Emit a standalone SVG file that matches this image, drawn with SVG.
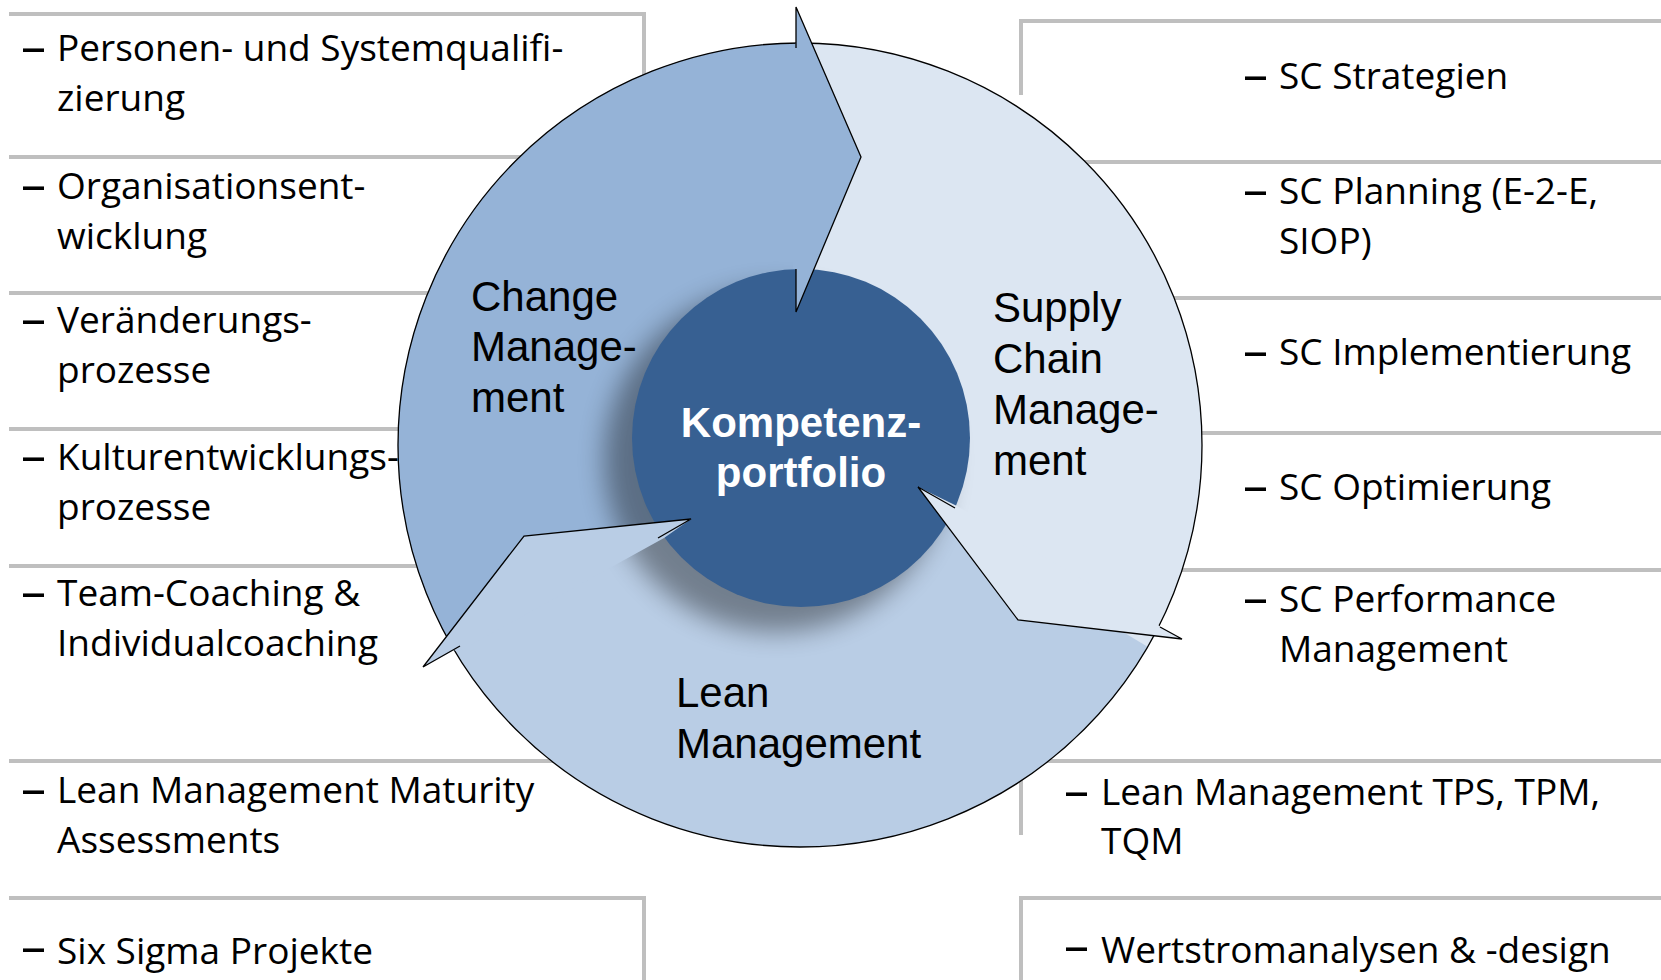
<svg xmlns="http://www.w3.org/2000/svg" width="1661" height="980" viewBox="0 0 1661 980">
<defs>
<style>
.sep{fill:none;stroke:#BFBFBF;stroke-width:4;stroke-linejoin:miter;stroke-linecap:butt}
.item{font-family:"Open Sans","Noto Sans",sans-serif;font-size:37px;fill:#000}
.dash{font-size:50px}
.lbl{font-family:"Liberation Sans",Arial,sans-serif;font-size:42px;fill:#000}
.corelbl{font-family:"Liberation Sans",Arial,sans-serif;font-size:42px;font-weight:bold;fill:#fff;text-anchor:middle}
.edge{fill:none;stroke:#000;stroke-width:1.3;stroke-linejoin:miter}
.c-change{fill:#95B3D7}
.c-scm{fill:#DCE6F2}
.c-lean{fill:#B9CDE5}
</style>
<filter id="sh" x="-50%" y="-50%" width="200%" height="200%"><feGaussianBlur stdDeviation="13"/></filter>
</defs>
<rect width="1661" height="980" fill="#fff"/>

<g id="separators">
<polyline class="sep" points="9,14 644,14 644,80"/>
<line class="sep" x1="9" y1="157" x2="700" y2="157"/>
<line class="sep" x1="9" y1="293" x2="700" y2="293"/>
<line class="sep" x1="9" y1="429" x2="700" y2="429"/>
<line class="sep" x1="9" y1="566" x2="700" y2="566"/>
<line class="sep" x1="9" y1="761" x2="700" y2="761"/>
<polyline class="sep" points="9,898 644,898 644,980"/>
<polyline class="sep" points="1021,95 1021,21 1661,21"/>
<line class="sep" x1="900" y1="162" x2="1661" y2="162"/>
<line class="sep" x1="900" y1="298" x2="1661" y2="298"/>
<line class="sep" x1="900" y1="433" x2="1661" y2="433"/>
<line class="sep" x1="900" y1="570" x2="1661" y2="570"/>
<polyline class="sep" points="1021,835 1021,761 1661,761"/>
<polyline class="sep" points="1021,980 1021,898 1661,898"/>
</g>

<g id="ring">
<circle id="node-lean" class="c-lean" cx="800" cy="445" r="402"/>
<path id="node-scm" class="c-scm" d="M796,43 A402,402 0 0 1 1159,626 L955,508 L801,438 L796,269 Z"/>
<path id="node-change" class="c-change" d="M454,650 A402,402 0 0 1 796,43 L796,269 L801,438 L662,535 Z"/>
<polygon class="c-scm" points="1123,632 1155,636 1148,647"/>
<circle cx="800" cy="445" r="402" fill="none" stroke="#000" stroke-width="1.3"/>
</g>

<g id="node-core">
<circle cx="776" cy="460" r="172" fill="#000" opacity="0.38" filter="url(#sh)"/>
<circle cx="801" cy="438" r="169" fill="#376092"/>
</g>

<g id="arrowheads">
<g id="head-change"><polygon class="c-change" points="796,7 861,157 796,312 796,269 793,269 793,47 796,43"/><polyline class="edge" points="796,48 796,7 861,157 796,312 796,269"/></g>
<g id="head-scm"><polygon class="c-scm" points="1182,639 1018,620 918,487 957,506 1157,623 1159,626"/><polyline class="edge" points="1160,627 1182,639 1018,620 918,487 955,508"/></g>
<g id="head-lean"><polygon class="c-lean" points="423,667 524,536 691,519 664,538 458,652 454,650"/><polyline class="edge" points="460,646 423,667 524,536 691,519 658,538"/></g>
</g>

<g id="label-change"><text class="lbl"><tspan x="471" y="311">Change</tspan><tspan x="471" y="361">Manage-</tspan><tspan x="471" y="412">ment</tspan></text></g>
<g id="label-scm"><text class="lbl"><tspan x="993" y="322">Supply</tspan><tspan x="993" y="373">Chain</tspan><tspan x="993" y="424">Manage-</tspan><tspan x="993" y="475">ment</tspan></text></g>
<g id="label-lean"><text class="lbl"><tspan x="676" y="707">Lean</tspan><tspan x="676" y="758">Management</tspan></text></g>
<g id="label-core"><text class="corelbl"><tspan x="801" y="437">Kompetenz-</tspan><tspan x="801" y="487">portfolio</tspan></text></g>

<g id="list-left">
<g id="item-l1"><text class="item"><tspan class="dash" x="21" y="64">–</tspan><tspan x="57" y="61">Personen- und Systemqualifi-</tspan><tspan x="57" y="111">zierung</tspan></text></g>
<g id="item-l2"><text class="item"><tspan class="dash" x="21" y="202">–</tspan><tspan x="57" y="199">Organisationsent-</tspan><tspan x="57" y="249">wicklung</tspan></text></g>
<g id="item-l3"><text class="item"><tspan class="dash" x="21" y="336">–</tspan><tspan x="57" y="333">Veränderungs-</tspan><tspan x="57" y="383">prozesse</tspan></text></g>
<g id="item-l4"><text class="item"><tspan class="dash" x="21" y="473">–</tspan><tspan x="57" y="470">Kulturentwicklungs-</tspan><tspan x="57" y="520">prozesse</tspan></text></g>
<g id="item-l5"><text class="item"><tspan class="dash" x="21" y="609">–</tspan><tspan x="57" y="606">Team-Coaching &amp;</tspan><tspan x="57" y="656">Individualcoaching</tspan></text></g>
<g id="item-l6"><text class="item"><tspan class="dash" x="21" y="806">–</tspan><tspan x="57" y="803">Lean Management Maturity</tspan><tspan x="57" y="853">Assessments</tspan></text></g>
<g id="item-l7"><text class="item"><tspan class="dash" x="21" y="964">–</tspan><tspan x="57" y="964">Six Sigma Projekte</tspan></text></g>
</g>

<g id="list-right">
<g id="item-r1"><text class="item"><tspan class="dash" x="1243" y="92">–</tspan><tspan x="1279" y="89">SC Strategien</tspan></text></g>
<g id="item-r2"><text class="item"><tspan class="dash" x="1243" y="207">–</tspan><tspan x="1279" y="204">SC Planning (E-2-E,</tspan><tspan x="1279" y="254">SIOP)</tspan></text></g>
<g id="item-r3"><text class="item"><tspan class="dash" x="1243" y="368">–</tspan><tspan x="1279" y="365">SC Implementierung</tspan></text></g>
<g id="item-r4"><text class="item"><tspan class="dash" x="1243" y="503">–</tspan><tspan x="1279" y="500">SC Optimierung</tspan></text></g>
<g id="item-r5"><text class="item"><tspan class="dash" x="1243" y="615">–</tspan><tspan x="1279" y="612">SC Performance</tspan><tspan x="1279" y="662">Management</tspan></text></g>
<g id="item-r6"><text class="item"><tspan class="dash" x="1064" y="808">–</tspan><tspan x="1101" y="805">Lean Management TPS, TPM,</tspan><tspan x="1101" y="854">TQM</tspan></text></g>
<g id="item-r7"><text class="item"><tspan class="dash" x="1064" y="963">–</tspan><tspan x="1101" y="963">Wertstromanalysen &amp; -design</tspan></text></g>
</g>
</svg>
